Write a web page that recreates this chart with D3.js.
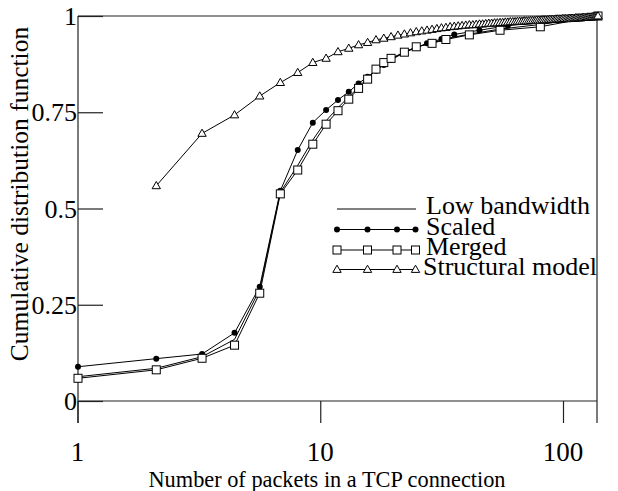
<!DOCTYPE html>
<html>
<head>
<meta charset="utf-8">
<script src="https://cdn.jsdelivr.net/npm/d3@7"></script>
<style>
  body { margin: 0; background: #fff; }
  svg { display: block; }
</style>
</head>
<body>
<svg id="chart" width="618" height="491"></svg>
<script>
// packets per connection (x) and CDF values (y)
const lowK = [1, 2, 3, 4, 5, 6, 7, 8, 9, 10, 11, 12, 13, 14, 15, 16, 18, 20, 23, 26, 32, 42, 60, 100];
const lowCdf = [0.063, 0.085, 0.115, 0.160, 0.290, 0.542, 0.612, 0.678, 0.728, 0.762, 0.790, 0.815,
  0.840, 0.860, 0.876, 0.888, 0.906, 0.919, 0.930, 0.941, 0.953, 0.966, 0.978, 1.0];

const scaledK = [1, 2, 3, 4, 5, 6, 7, 8, 9, 10, 11, 12, 13, 14, 15, 16, 18, 20, 22, 25, 28, 35, 45, 60, 80, 100];
const scaledCdf = [0.089, 0.110, 0.122, 0.177, 0.297, 0.546, 0.652, 0.723, 0.756, 0.782, 0.803, 0.825,
  0.842, 0.858, 0.873, 0.886, 0.905, 0.918, 0.929, 0.940, 0.952, 0.963, 0.975, 0.985, 0.993, 1.0];

const mergedK = [1, 2, 3, 4, 5, 6, 7, 8, 9, 10, 11, 12, 13, 14, 15, 16, 18, 20, 23, 26, 32, 42, 60, 100];
const mergedCdf = [0.059, 0.081, 0.111, 0.145, 0.280, 0.538, 0.600, 0.667, 0.719, 0.754, 0.784, 0.812,
  0.836, 0.862, 0.879, 0.890, 0.906, 0.920, 0.929, 0.939, 0.951, 0.963, 0.972, 1.0];

const structK = d3.range(2, 101);
const structCdf = [
  0.559, 0.695, 0.743, 0.792, 0.827, 0.853, 0.879, 0.890, 0.907,
  0.916, 0.925, 0.931, 0.938, 0.942, 0.946, 0.950, 0.953, 0.956, 0.959,
  0.961, 0.963, 0.965, 0.967, 0.969, 0.970, 0.972, 0.973, 0.974, 0.975,
  0.976, 0.977, 0.977, 0.978, 0.979, 0.979, 0.980, 0.981, 0.981, 0.982,
  0.982, 0.983, 0.983, 0.984, 0.984, 0.985, 0.985, 0.985, 0.986, 0.986,
  0.986, 0.987, 0.987, 0.987, 0.988, 0.988, 0.988, 0.989, 0.989, 0.989,
  0.990, 0.990, 0.990, 0.990, 0.991, 0.991, 0.991, 0.991, 0.992, 0.992,
  0.992, 0.992, 0.993, 0.993, 0.993, 0.993, 0.993, 0.994, 0.994, 0.994,
  0.994, 0.995, 0.995, 0.995, 0.995, 0.995, 0.996, 0.996, 0.996, 0.996,
  0.997, 0.997, 0.997, 0.997, 0.998, 0.998, 0.998, 0.999, 0.999, 1.000
];

const xTicks = [1, 10, 100];
const yTicks = [0, 0.25, 0.5, 0.75, 1];
const yTickLabels = ["0", "0.25", "0.5", "0.75", "1"];

const names = ["Low bandwidth", "Scaled", "Merged", "Structural model"];

const serif = "'Liberation Serif', 'Times New Roman', Times, serif";

const svg = d3.select("#chart")
  .attr("font-family", serif);

// the data and the printed tick marks don't share the same decade width in the original
const x = d3.scaleLog().domain([1, 100]).range([78, 598]);
const xAxisScale = d3.scaleLog().domain([1, 100]).range([77.5, 563]);
const y = d3.scaleLinear().domain([0, 1]).range([401, 16]);

const frame = svg.append("g").attr("stroke", "#222").attr("stroke-width", 1.2);
frame.append("line").attr("x1", 78).attr("x2", 78).attr("y1", 16).attr("y2", 423);
frame.append("line").attr("x1", 597).attr("x2", 597).attr("y1", 16).attr("y2", 423);
frame.append("line").attr("x1", 78).attr("x2", 597).attr("y1", y(1)).attr("y2", y(1));
frame.append("line").attr("x1", 78).attr("x2", 597).attr("y1", y(0)).attr("y2", y(0));

// y ticks
const yAxis = d3.axisRight(y)
  .tickValues(yTicks)
  .tickSize(25)
  .tickFormat("");
svg.append("g")
  .attr("transform", "translate(78,0)")
  .call(yAxis)
  .call((g) => g.select(".domain").remove())
  .call((g) => g.selectAll("line").attr("stroke", "#222").attr("stroke-width", 1.2));

svg.append("g")
  .selectAll("text")
  .data(yTicks)
  .join("text")
  .attr("x", 77)
  .attr("y", (d) => y(d) + 9)
  .attr("text-anchor", "end")
  .attr("font-family", serif)
  .attr("font-size", 26)
  .text((d, i) => yTickLabels[i]);

// x ticks
const xAxis = d3.axisBottom(xAxisScale)
  .tickValues(xTicks)
  .tickSize(22)
  .tickFormat("");
svg.append("g")
  .attr("transform", "translate(0,401)")
  .call(xAxis)
  .call((g) => g.select(".domain").remove())
  .call((g) => g.selectAll("line").attr("stroke", "#222").attr("stroke-width", 1.2));

svg.append("g")
  .selectAll("text")
  .data(xTicks)
  .join("text")
  .attr("x", (d) => xAxisScale(d))
  .attr("y", 461)
  .attr("text-anchor", "middle")
  .attr("font-family", serif)
  .attr("font-size", 27)
  .text((d) => d);

svg.append("text")
  .attr("x", 327)
  .attr("y", 487)
  .attr("text-anchor", "middle")
  .attr("font-family", serif)
  .attr("font-size", 24)
  .attr("textLength", 357)
  .attr("lengthAdjust", "spacingAndGlyphs")
  .text("Number of packets in a TCP connection");

svg.append("text")
  .attr("transform", "translate(28,194) rotate(-90)")
  .attr("text-anchor", "middle")
  .attr("font-family", serif)
  .attr("font-size", 25.5)
  .text("Cumulative distribution function");

// series
const line = d3.line().x((d) => x(d[0])).y((d) => y(d[1]));
const series = [
  d3.zip(lowK, lowCdf),
  d3.zip(scaledK, scaledCdf),
  d3.zip(mergedK, mergedCdf),
  d3.zip(structK, structCdf)
];

const plot = svg.append("g");
series.forEach((pts) => {
  plot.append("path")
    .attr("d", line(pts))
    .attr("fill", "none")
    .attr("stroke", "#000")
    .attr("stroke-width", 1);
});

const tri = d3.symbol().type(d3.symbolTriangle).size(30);

function drawMarkers(g, pts, kind) {
  if (kind === 1) {
    g.selectAll(null).data(pts).join("circle")
      .attr("cx", (d) => d[0]).attr("cy", (d) => d[1])
      .attr("r", 3).attr("fill", "#000");
  } else if (kind === 2) {
    g.selectAll(null).data(pts).join("rect")
      .attr("x", (d) => d[0] - 4).attr("y", (d) => d[1] - 4)
      .attr("width", 8).attr("height", 8)
      .attr("fill", "#fff").attr("stroke", "#000").attr("stroke-width", 1);
  } else if (kind === 3) {
    g.selectAll(null).data(pts).join("path")
      .attr("d", tri)
      .attr("transform", (d) => `translate(${d[0]},${d[1] + 0.5})`)
      .attr("fill", "#fff").attr("stroke", "#000").attr("stroke-width", 1);
  }
}

series.forEach((pts, i) => {
  drawMarkers(plot.append("g"), pts.map((d) => [x(d[0]), y(d[1])]), i);
});

// legend
const legendRows = [209, 229.5, 250, 269.5];
const legendMarks = [337, 367.5, 397, 415.5];
const legend = svg.append("g");
names.forEach((name, i) => {
  const ly = legendRows[i];
  legend.append("line")
    .attr("x1", 337).attr("x2", 416)
    .attr("y1", ly).attr("y2", ly)
    .attr("stroke", "#000").attr("stroke-width", 1);
  drawMarkers(legend.append("g"), legendMarks.map((mx) => [mx, ly]), i);
  legend.append("text")
    .attr("x", i === 3 ? 423 : 426)
    .attr("y", ly + 5)
    .attr("font-family", serif)
    .attr("font-size", 26)
    .text(name);
});
</script>
</body>
</html>
